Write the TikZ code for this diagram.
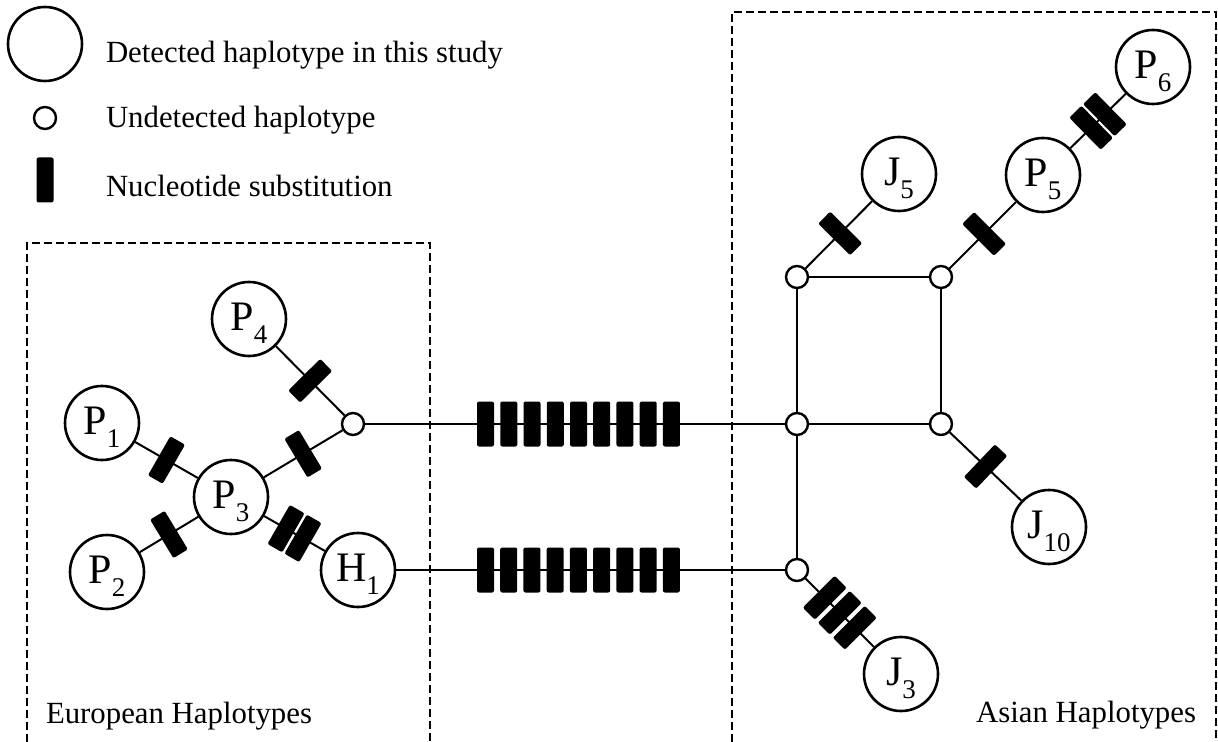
\documentclass[tikz,border=0pt]{standalone}
\usepackage{fontspec}
\setmainfont{Liberation Serif}
\usetikzlibrary{positioning,calc}
\newcommand{\hsub}[2]{#1\raisebox{-6.5pt}{\fontsize{13.5}{13.5}\selectfont #2}}

\begin{document}
\begin{tikzpicture}[x=0.5pt, y=-0.5pt, line width=1pt,
  hap/.style={draw, circle, line width=1.3pt, minimum size=37pt, inner sep=0pt,
    text height=14.2pt, text depth=3pt, font=\fontsize{21}{24}\selectfont},
  hid/.style={draw, circle, line width=1.2pt, minimum size=11pt, inner sep=0pt, fill=white},
  snp/.style={fill=black, rounded corners=1pt, minimum width=8.5pt, minimum height=22.5pt, inner sep=0pt},
  snpat/.style={snp, sloped, pos=#1},
  grp/.style={line width=1.3pt, dash pattern=on 4pt off 2pt},
  txt/.style={font=\fontsize{15.4}{18}\selectfont, inner sep=0pt}]
  \useasboundingbox (0,0) rectangle (1218,742);

  % legend
  \node[hap] (k1) at (45,44) {};
  \node[hid] (k2) at (45,118) {};
  \node[snp] (k3) at (45,180) {};
  \node[txt, anchor=base west] (t1) at (105,63) {Detected haplotype in this study};
  \node[txt, anchor=base west] (t2) at (105,128) {Undetected haplotype};
  \node[txt, anchor=base west] (t3) at (105,197) {Nucleotide substitution};

  % group frames
  \draw[grp] (27,742) |- (430,243) -- (430,742);
  \draw[grp] (732,742) |- (1216,12) -- (1216,742);
  \node[txt, anchor=base west] (eu) at (45,723) {European Haplotypes};
  \node[txt, anchor=base east] (as) at (1197,722) {Asian Haplotypes};

  % European haplotypes
  \node[hap] (P4) at (249,319) {\hsub{P}{4}};
  \node[hap] (P1) at (102,423) {\hsub{P}{1}};
  \node[hap] (P3) at (231,497) {\hsub{P}{3}};
  \node[hap] (P2) at (107,572) {\hsub{P}{2}};
  \node[hap] (H1) at (358,570) {\hsub{H}{1}};
  \node[hid] (x1) at (353,424) {};

  % Asian haplotypes
  \node[hid] (x2) at (797,277) {};
  \node[hid] (x3) at (941,277) {};
  \node[hid] (x4) at (797,424) {};
  \node[hid] (x5) at (941,424) {};
  \node[hid] (x6) at (797,570) {};
  \node[hap] (J5) at (899,174) {\hsub{J}{5}};
  \node[hap] (P5) at (1043,175) {\hsub{P}{5}};
  \node[hap] (P6) at (1153,67) {\hsub{P}{6}};
  \node[hap] (J10) at (1049,527) {\hsub{J}{10}};
  \node[hap] (J3) at (901,674) {\hsub{J}{3}};

  \draw (P4) -- (x1) node[snpat=.5]{};
  \draw (P3) -- (x1) node[snpat=.5]{};
  \draw (P1) -- (P3) node[snpat=.5]{};
  \draw (P2) -- (P3) node[snpat=.5]{};
  \draw (P3) -- (H1) node[snpat=.36]{} node[snpat=.64]{};

  \draw (x2) -- (x3);
  \draw (x2) -- (x4);
  \draw (x3) -- (x5);
  \draw (x4) -- (x5);
  \draw (x4) -- (x6);
  \draw (x2) -- (J5) node[snpat=.52]{};
  \draw (x3) -- (P5) node[snpat=.52]{};
  \draw (P5) -- (P6) node[snpat=.375]{} node[snpat=.625]{};
  \draw (x5) -- (J10) node[snpat=.5]{};
  \draw (x6) -- (J3) node[snpat=.28]{} node[snpat=.5]{} node[snpat=.72]{};

  % long branches
  \draw (x1) -- (x4);
  \draw (H1) -- (x6);
  \foreach \k in {0,...,8} {
    \pgfmathsetmacro\p{0.2867+0.0554*\k}
    \path (x1) -- (x4) node[snpat=\p]{};
    \pgfmathsetmacro\q{0.2296+0.0598*\k}
    \path (H1) -- (x6) node[snpat=\q]{};
  }
\end{tikzpicture}
\end{document}
